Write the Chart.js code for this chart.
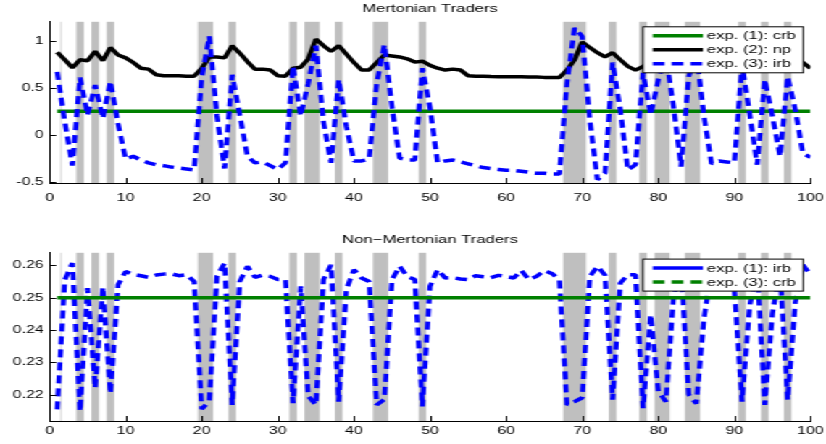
<!DOCTYPE html>
<html>
<head>
<meta charset="utf-8">
<script src="https://cdn.jsdelivr.net/npm/chart.js@4.4.1/dist/chart.umd.min.js"></script>
<style>
  html, body { margin: 0; padding: 0; background: #fff; }
  body { width: 826px; height: 444px; overflow: hidden; position: relative; }
  /* the source figure is stretched sideways, so the charts are drawn narrow and scaled */
  #stage { position: absolute; left: 0; top: 0; width: 570px; height: 444px; transform: scaleX(1.4491); transform-origin: 0 0; }
  #stage canvas { position: absolute; left: 0; }
  #topChart { top: 0; }
  #bottomChart { top: 222px; }
</style>
</head>
<body>
<div id="stage">
  <canvas id="topChart" width="570" height="222"></canvas>
  <canvas id="bottomChart" width="570" height="222"></canvas>
</div>
<script>
const periods = Array.from({ length: 100 }, (_, i) => i + 1);

// Mertonian traders, exp. (2): np
const npMerton = [
  0.88, 0.80, 0.715, 0.80, 0.79, 0.89, 0.79, 0.93, 0.85, 0.82,
  0.77, 0.71, 0.70, 0.64, 0.63, 0.63, 0.63, 0.625, 0.625, 0.71,
  0.83, 0.83, 0.82, 0.95, 0.87, 0.78, 0.70, 0.70, 0.69, 0.63,
  0.625, 0.71, 0.72, 0.81, 1.02, 0.95, 0.89, 0.95, 0.86, 0.77,
  0.69, 0.69, 0.77, 0.85, 0.84, 0.83, 0.81, 0.775, 0.785, 0.74,
  0.71, 0.69, 0.70, 0.69, 0.63, 0.625, 0.625, 0.622, 0.62, 0.62,
  0.62, 0.618, 0.615, 0.615, 0.612, 0.61, 0.61, 0.69, 0.80, 0.99,
  0.93, 0.875, 0.83, 0.875, 0.80, 0.73, 0.69, 0.73, 0.78, 0.84,
  0.90, 0.84, 0.78, 0.84, 0.92, 0.86, 0.79, 0.75, 0.73, 0.72,
  0.80, 0.78, 0.74, 0.83, 0.80, 0.76, 0.86, 0.82, 0.77, 0.71
];

// Mertonian traders, exp. (3): irb
const irbMerton = [
  0.67, 0.14, -0.33, 0.61, 0.21, 0.53, 0.175, 0.57, 0.12, -0.26,
  -0.23, -0.27, -0.30, -0.32, -0.33, -0.345, -0.355, -0.365, -0.375, 0.61,
  1.05, 0.20, -0.36, 0.64, 0.21, -0.23, -0.30, -0.29, -0.33, -0.37,
  -0.30, 0.73, 0.20, 0.55, 0.95, 0.14, -0.30, 0.59, 0.09, -0.28,
  -0.28, -0.26, 0.55, 0.96, 0.30, -0.25, -0.27, -0.27, 0.71, 0.29,
  -0.30, -0.28, -0.27, -0.29, -0.31, -0.33, -0.35, -0.36, -0.37, -0.38,
  -0.38, -0.39, -0.40, -0.41, -0.41, -0.42, -0.42, 0.55, 1.14, 1.05,
  0.16, -0.48, -0.41, 0.77, 0.27, -0.375, -0.32, 0.66, 0.21, 0.59,
  0.85, 0.30, -0.34, 0.62, 0.88, 0.20, -0.31, -0.28, -0.29, -0.30,
  0.75, 0.23, -0.32, 0.59, 0.20, -0.23, 0.62, 0.27, -0.20, -0.24
];

// exp. (1) crb level, both panels
const crbLevel = 0.25;

// Non-Mertonian traders, irb
const irbNonMerton = [
  0.2154, 0.2555, 0.2607, 0.2148, 0.2530, 0.2220, 0.2532, 0.2203, 0.2540, 0.2581,
  0.2572, 0.2568, 0.2563, 0.2570, 0.2573, 0.2574, 0.2568, 0.2571, 0.2550, 0.2155,
  0.2180, 0.2567, 0.2607, 0.2168, 0.2550, 0.2597, 0.2563, 0.2570, 0.2566, 0.2556,
  0.2556, 0.2173, 0.2535, 0.2195, 0.2168, 0.2556, 0.2602, 0.2178, 0.2525, 0.2587,
  0.2561, 0.2550, 0.2168, 0.2185, 0.2556, 0.2597, 0.2566, 0.2556, 0.2163, 0.2535,
  0.2587, 0.2561, 0.2562, 0.2558, 0.2556, 0.2568, 0.2565, 0.2562, 0.2569, 0.2566,
  0.2561, 0.2584, 0.2556, 0.2566, 0.2584, 0.2575, 0.2556, 0.2168, 0.2178, 0.2190,
  0.2566, 0.2597, 0.2570, 0.2184, 0.2545, 0.2571, 0.2571, 0.2158, 0.2447, 0.2210,
  0.2178, 0.2504, 0.2590, 0.2200, 0.2172, 0.2435, 0.2590, 0.2575, 0.2570, 0.2525,
  0.2178, 0.2473, 0.2590, 0.2168, 0.2452, 0.2585, 0.2184, 0.2484, 0.2602, 0.2571
];

// shaded periods (start / end on the x axis)
const shadeFrom = [3.5, 5.5, 7.5, 19.5, 23.5, 31.5, 33.5, 37.5, 42.5, 48.5, 67.5, 73.5, 77.5, 79.5, 83.5, 90.5, 93.5, 96.5];
const shadeTo   = [4.5, 6.5, 8.5, 21.5, 24.5, 32.5, 35.5, 38.5, 44.5, 49.5, 70.5, 74.5, 78.5, 81.5, 85.5, 91.5, 94.5, 97.5];
const markerAt = 1.5;

const xTicks = [0, 10, 20, 30, 40, 50, 60, 70, 80, 90, 100];
const yTicksTop = [-0.5, 0, 0.5, 1];
const yTicksBottom = [0.22, 0.23, 0.24, 0.25, 0.26];

const FONT = 'Liberation Sans, Arial, Helvetica, sans-serif';
const GREEN = '#008000';
const BLUE = '#0000ff';

const toPoints = vals => periods.map((t, i) => ({ x: t, y: vals[i] }));
const flatLine = level => [{ x: periods[0], y: level }, { x: periods[periods.length - 1], y: level }];

// gray bands under the lines
const shading = {
  id: 'shading',
  beforeDatasetsDraw(chart) {
    const { ctx, chartArea: { top, bottom }, scales: { x } } = chart;
    ctx.save();
    ctx.fillStyle = '#bfbfbf';
    shadeFrom.forEach((a, i) => {
      const x0 = x.getPixelForValue(a);
      const x1 = x.getPixelForValue(shadeTo[i]);
      ctx.fillRect(x0, top, x1 - x0, bottom - top);
    });
    ctx.fillStyle = '#c8c8c8';
    ctx.fillRect(x.getPixelForValue(markerAt) - 0.4, top, 0.8, bottom - top);
    ctx.restore();
  }
};

// matlab style ticks pointing into the axes
const innerTicks = {
  id: 'innerTicks',
  afterDatasetsDraw(chart) {
    const { ctx, chartArea: { left, bottom }, scales: { x, y } } = chart;
    ctx.save();
    ctx.strokeStyle = '#000';
    ctx.lineWidth = 1;
    ctx.beginPath();
    x.ticks.forEach(t => {
      const px = Math.round(x.getPixelForValue(t.value)) + 0.5;
      ctx.moveTo(px, bottom);
      ctx.lineTo(px, bottom - 5);
    });
    y.ticks.forEach(t => {
      const py = Math.round(y.getPixelForValue(t.value)) + 0.5;
      ctx.moveTo(left, py);
      ctx.lineTo(left + 4.6, py);
    });
    ctx.stroke();
    ctx.restore();
  }
};

// legend box inside the top right corner of the axes
const boxLegend = {
  id: 'boxLegend',
  afterDraw(chart, args, opts) {
    const { ctx, chartArea } = chart;
    const right = chartArea.right - 5;
    const left = right - 110.5;
    const top = chartArea.top + opts.inset;
    const h = opts.entries.length * 14 + 4;
    ctx.save();
    ctx.fillStyle = '#fff';
    ctx.fillRect(left, top, right - left, h);
    ctx.strokeStyle = '#000';
    ctx.lineWidth = 1;
    ctx.strokeRect(left, top, right - left, h);
    ctx.font = '11.5px ' + FONT;
    ctx.textBaseline = 'middle';
    opts.entries.forEach((e, i) => {
      const yy = top + 9 + i * 14;
      ctx.beginPath();
      ctx.strokeStyle = e.color;
      ctx.lineWidth = 3.5;
      ctx.setLineDash(e.dash || []);
      ctx.moveTo(left + 6.7, yy);
      ctx.lineTo(left + 41.3, yy);
      ctx.stroke();
      ctx.setLineDash([]);
      ctx.fillStyle = '#000';
      ctx.fillText(e.label, left + 44, yy + 0.5);
    });
    ctx.restore();
  }
};

function axisOptions(yMin, yMax, yTicks, yFormat, labelPad, axisHeight) {
  return {
    x: {
      type: 'linear',
      min: 0,
      max: 100,
      afterBuildTicks: s => { s.ticks = xTicks.map(v => ({ value: v })); },
      // fixed height, and no extra side padding for the end labels
      afterFit: s => { s.height = axisHeight; s.paddingLeft = 0; s.paddingRight = 0; },
      ticks: { color: '#000', font: { family: FONT, size: 11 }, padding: labelPad, maxRotation: 0, autoSkip: false },
      grid: { display: true, drawOnChartArea: false, drawTicks: false },
      border: { display: true, color: '#000', width: 1 }
    },
    y: {
      type: 'linear',
      min: yMin,
      max: yMax,
      afterBuildTicks: s => { s.ticks = yTicks.map(v => ({ value: v })); },
      afterFit: s => { s.width = 34.2; s.paddingTop = 0; s.paddingBottom = 0; },
      ticks: { color: '#000', font: { family: FONT, size: 11 }, padding: 4, callback: yFormat },
      grid: { display: true, drawOnChartArea: false, drawTicks: false },
      border: { display: true, color: '#000', width: 1 }
    }
  };
}

function titleOptions(text, padTop) {
  return {
    display: true,
    text: text,
    color: '#000',
    fullSize: false,
    font: { family: FONT, size: 11.5, weight: 'normal' },
    padding: { top: padTop, bottom: 6 }
  };
}

const common = {
  responsive: false,
  animation: false,
  devicePixelRatio: 1,
  layout: { padding: { left: 0, right: 10.7, top: 0, bottom: 0 } },
  elements: { point: { radius: 0 }, line: { tension: 0, borderCapStyle: 'butt', borderJoinStyle: 'bevel' } }
};

// top panel
new Chart(document.getElementById('topChart'), {
  type: 'line',
  data: {
    datasets: [
      { label: 'exp. (3): irb', data: toPoints(irbMerton), borderColor: BLUE, borderWidth: 3.5, borderDash: [8, 5] },
      { label: 'exp. (2): np', data: toPoints(npMerton), borderColor: '#000', borderWidth: 3.5 },
      { label: 'exp. (1): crb', data: flatLine(crbLevel), borderColor: GREEN, borderWidth: 3.5 }
    ]
  },
  options: {
    ...common,
    scales: axisOptions(-0.515, 1.205, yTicksTop, v => String(v), 8.5, 39),
    plugins: {
      legend: { display: false },
      tooltip: { enabled: false },
      title: titleOptions('Mertonian Traders', 2),
      boxLegend: {
        inset: 5,
        entries: [
          { label: 'exp. (1): crb', color: GREEN },
          { label: 'exp. (2): np', color: '#000' },
          { label: 'exp. (3): irb', color: BLUE, dash: [8, 5] }
        ]
      }
    }
  },
  plugins: [shading, innerTicks, boxLegend]
});

// bottom panel
new Chart(document.getElementById('bottomChart'), {
  type: 'line',
  data: {
    datasets: [
      { label: 'exp. (3): crb', data: flatLine(crbLevel), borderColor: GREEN, borderWidth: 3.5 },
      { label: 'exp. (1): irb', data: toPoints(irbNonMerton), borderColor: BLUE, borderWidth: 3.5, borderDash: [8, 5] }
    ]
  },
  options: {
    ...common,
    scales: axisOptions(0.2118, 0.2639, yTicksBottom, v => v.toFixed(2), 3.5, 23),
    plugins: {
      legend: { display: false },
      tooltip: { enabled: false },
      title: titleOptions('Non\u2212Mertonian Traders', 11),
      boxLegend: {
        inset: 6.3,
        entries: [
          { label: 'exp. (1): irb', color: BLUE },
          { label: 'exp. (3): crb', color: GREEN, dash: [8, 5] }
        ]
      }
    }
  },
  plugins: [shading, innerTicks, boxLegend]
});
</script>
</body>
</html>
